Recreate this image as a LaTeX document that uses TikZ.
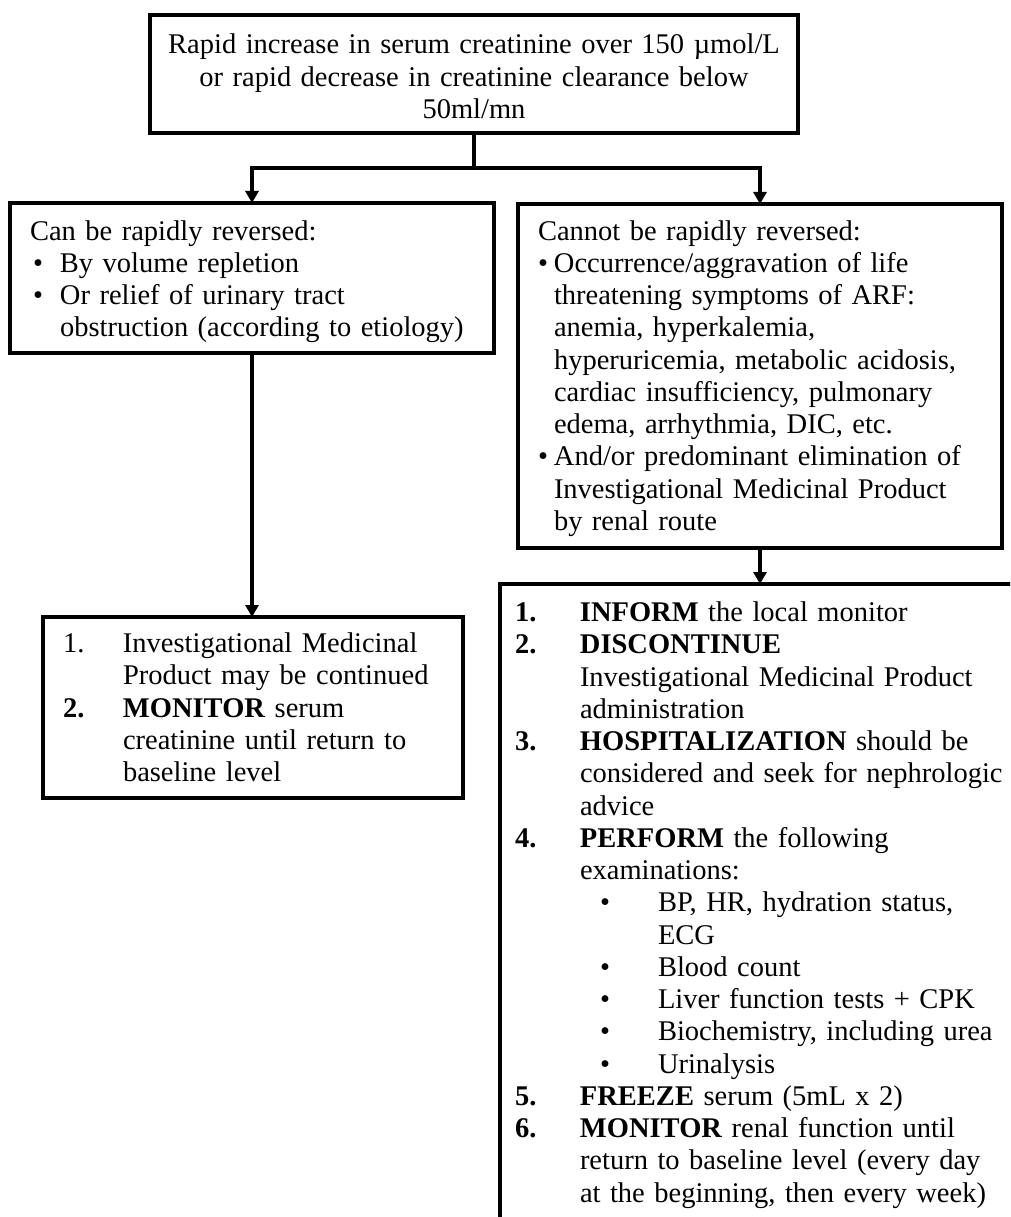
\documentclass[tikz,border=0pt]{standalone}
\usepackage{fontspec}
\setmainfont{Liberation Serif}
\usetikzlibrary{arrows.meta}
\newcommand\lab[2]{\makebox[#1][l]{#2}}
\begin{document}
\begin{tikzpicture}[x=1pt,y=-1pt]
\tikzset{
  frame/.style={draw, line width=3.8pt, rectangle, inner sep=0pt, outer sep=0pt, anchor=north west},
  txt/.style={inner sep=0pt, outer sep=0pt, anchor=base west, align=left, text width=500pt,
              font=\fontsize{28.5}{32.25}\selectfont},
  conn/.style={line width=3.8pt},
  arr/.style={conn, -{Triangle[width=13pt,length=12pt]}},
}
\useasboundingbox (0,0) rectangle (1010,1217);
\fill[white] (0,0) rectangle (1010,1217);
\clip (0,0) rectangle (1010,1217);

% frames
\node[frame, minimum width=648pt, minimum height=118pt] (T)  at (150,15)  {};
\node[frame, minimum width=484pt, minimum height=150pt] (L1) at (10,203)  {};
\node[frame, minimum width=484pt, minimum height=344pt] (R1) at (518,204) {};
\node[frame, minimum width=420pt, minimum height=181pt] (L2) at (43,617)  {};
\node[frame, minimum width=560pt, minimum height=700pt] (R2) at (500,584) {};

% texts
\node[txt, text width=640pt, align=center, anchor=base] (Tt) at (474,54)
  {Rapid increase in serum creatinine over 150 µmol/L\\
   or rapid decrease in creatinine clearance below\\
   50ml/mn};

\node[txt] (L1t) at (30,240)
  {Can be rapidly reversed:\\
   \lab{30pt}{\hspace{3pt}•}By volume repletion\\
   \lab{30pt}{\hspace{3pt}•}Or relief of urinary tract\\
   \hspace*{30pt}obstruction (according to etiology)};

\node[txt] (R1t) at (538,240)
  {Cannot be rapidly reversed:\\
   \lab{16pt}{•}Occurrence/aggravation of life\\
   \hspace*{16pt}threatening symptoms of ARF:\\
   \hspace*{16pt}anemia, hyperkalemia,\\
   \hspace*{16pt}hyperuricemia, metabolic acidosis,\\
   \hspace*{16pt}cardiac insufficiency, pulmonary\\
   \hspace*{16pt}edema, arrhythmia, DIC, etc.\\
   \lab{16pt}{•}And/or predominant elimination of\\
   \hspace*{16pt}Investigational Medicinal Product\\
   \hspace*{16pt}by renal route};

\node[txt] (L2t) at (63,652.5)
  {\lab{60pt}{1.}Investigational Medicinal\\
   \hspace*{60pt}Product may be continued\\
   \lab{60pt}{\textbf{2.}}\textbf{MONITOR} serum\\
   \hspace*{60pt}creatinine until return to\\
   \hspace*{60pt}baseline level};

\node[txt] (R2t) at (515,621.7)
  {\lab{65pt}{\textbf{1.}}\textbf{INFORM} the local monitor\\
   \lab{65pt}{\textbf{2.}}\textbf{DISCONTINUE}\\
   \hspace*{65pt}Investigational Medicinal Product\\
   \hspace*{65pt}administration\\
   \lab{65pt}{\textbf{3.}}\textbf{HOSPITALIZATION} should be\\
   \hspace*{65pt}considered and seek for nephrologic\\
   \hspace*{65pt}advice\\
   \lab{65pt}{\textbf{4.}}\textbf{PERFORM} the following\\
   \hspace*{65pt}examinations:\\
   \hspace*{85pt}\lab{58pt}{•}BP, HR, hydration status,\\
   \hspace*{143pt}ECG\\
   \hspace*{85pt}\lab{58pt}{•}Blood count\\
   \hspace*{85pt}\lab{58pt}{•}Liver function tests + CPK\\
   \hspace*{85pt}\lab{58pt}{•}Biochemistry, including urea\\
   \hspace*{85pt}\lab{58pt}{•}Urinalysis\\
   \lab{65pt}{\textbf{5.}}\textbf{FREEZE} serum (5mL x 2)\\
   \lab{65pt}{\textbf{6.}}\textbf{MONITOR} renal function until\\
   \hspace*{65pt}return to baseline level (every day\\
   \hspace*{65pt}at the beginning, then every week)};

% connectors
\coordinate (J) at (474,168);
\draw[conn] (T.south) -- (T.south |- J);
\draw[arr] (J) -| (L1.north);
\draw[arr] (J) -| (R1.north);
\draw[arr] (L1.south) -- (L1.south |- L2.north);
\draw[arr] (R1.south) -- (R1.south |- R2.north);
\end{tikzpicture}
\end{document}
